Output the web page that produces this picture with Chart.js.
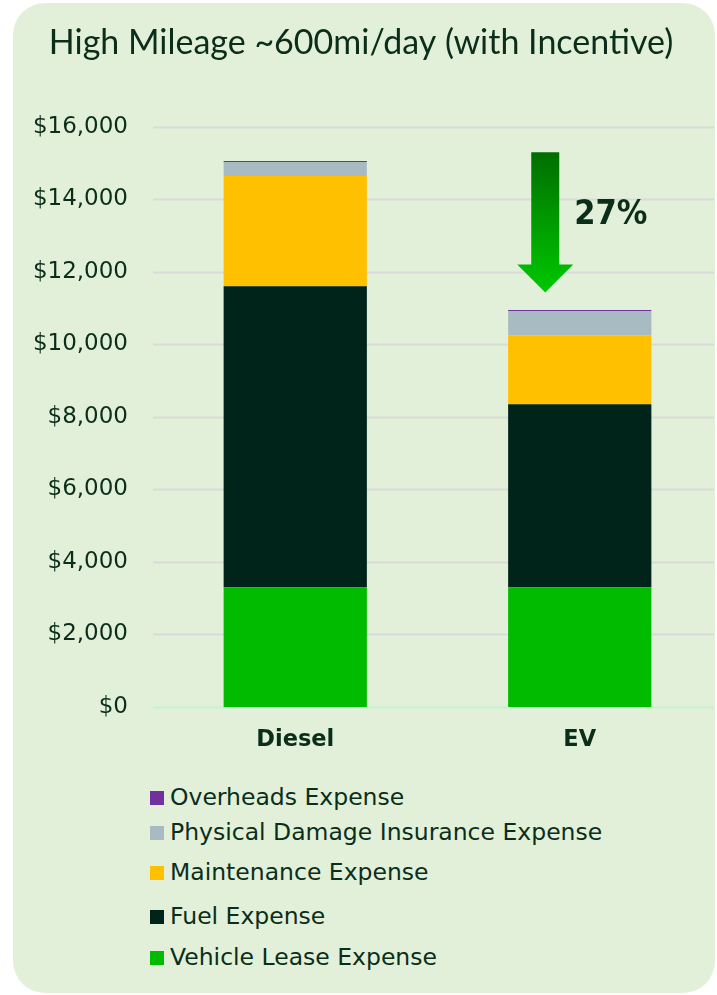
<!DOCTYPE html>
<html>
<head>
<meta charset="utf-8">
<script src="https://cdn.jsdelivr.net/npm/chart.js@4.4.1/dist/chart.umd.min.js"></script>
<style>
  html, body { margin:0; padding:0; background:#fff; }
  body { width:717px; height:995px; position:relative; overflow:hidden; }
  #card {
    position:absolute; left:13px; top:3px; right:2px; bottom:2px;
    background:#e2f0d9; border-radius:32px;
  }
  #wrap { position:absolute; left:0; top:0; width:722px; height:780px; }
  #legend {
    position:absolute; left:150px; top:0; margin:0; padding:0; list-style:none;
    font-family:"DejaVu Sans", Verdana, sans-serif; font-size:23.5px; color:#0b2e1a;
  }
  #legend li { position:absolute; left:0; white-space:nowrap; }
  #legend .box { position:absolute; left:0; width:14px; height:14px; }
  #legend .txt { position:absolute; left:20px; line-height:28px; }
</style>
</head>
<body>
<div id="card"></div>
<div id="wrap"><canvas id="costChart" width="722" height="780"></canvas></div>
<ul id="legend"></ul>
<script>
// ---- data ----
const CATEGORIES = ["Diesel", "EV"];
const VEHICLE_LEASE = [3300, 3300];
const FUEL          = [8300, 5050];
const MAINTENANCE   = [3040, 1900];
const INSURANCE     = [390, 670];
const OVERHEADS     = [30, 30];
const Y_TICKS = [0, 2000, 4000, 6000, 8000, 10000, 12000, 14000, 16000];

const TEXT = "#0b2e1a";

// stacked from bottom up; legend lists them top-down
const SERIES = [
  { label:"Vehicle Lease Expense",            data:VEHICLE_LEASE, color:"#00bb00" },
  { label:"Fuel Expense",                     data:FUEL,          color:"#00241a" },
  { label:"Maintenance Expense",              data:MAINTENANCE,   color:"#ffc000" },
  { label:"Physical Damage Insurance Expense",data:INSURANCE,     color:"#a9bbc2" },
  { label:"Overheads Expense",                data:OVERHEADS,     color:"#7030a0" }
];

const total = i => SERIES.reduce((s,d)=>s+d.data[i],0);
const saving = Math.round((1 - total(1)/total(0))*100);

// grid lines stop at the card edge
const gridPlugin = {
  id:"gridExt",
  beforeDatasetsDraw(chart) {
    const { ctx, chartArea, scales:{ y } } = chart;
    ctx.save();
    Y_TICKS.forEach(v => {
      const py = Math.round(y.getPixelForValue(v)) + 0.5;
      ctx.beginPath();
      ctx.strokeStyle = v === 0 ? "#c4f2d2" : "#d9d9d9";
      ctx.lineWidth = 2;
      ctx.moveTo(chartArea.left, py);
      ctx.lineTo(714, py);
      ctx.stroke();
    });
    ctx.restore();
  }
};

// down arrow + percentage beside the EV bar
const arrowPlugin = {
  id:"saveArrow",
  afterDatasetsDraw(chart) {
    const { ctx, scales:{ x, y } } = chart;
    const cx = x.getPixelForValue(1) - 34.5;
    const top = y.getPixelForValue(15300);
    const neck = y.getPixelForValue(12200);
    const tip = y.getPixelForValue(11430);
    const g = ctx.createLinearGradient(0, top, 0, tip);
    g.addColorStop(0, "#006e00");
    g.addColorStop(1, "#00c800");
    ctx.save();
    ctx.fillStyle = g;
    ctx.beginPath();
    ctx.moveTo(cx-14, top); ctx.lineTo(cx+14, top);
    ctx.lineTo(cx+14, neck); ctx.lineTo(cx+28, neck);
    ctx.lineTo(cx, tip); ctx.lineTo(cx-28, neck);
    ctx.lineTo(cx-14, neck); ctx.closePath();
    ctx.fill();
    ctx.fillStyle = TEXT;
    ctx.font = "bold 34px 'DejaVu Sans Condensed', 'DejaVu Sans', sans-serif";
    ctx.textBaseline = "middle";
    ctx.fillText(saving + "%", cx + 29, y.getPixelForValue(13550));
    ctx.restore();
  }
};

const chart = new Chart(document.getElementById("costChart"), {
  type:"bar",
  data:{
    labels:CATEGORIES,
    datasets:SERIES.map(s => ({
      label:s.label, data:s.data, backgroundColor:s.color,
      categoryPercentage:1, barPercentage:0.5035, borderWidth:0
    }))
  },
  options:{
    responsive:false, animation:false,
    layout:{ padding:{ left:0, right:0, top:0, bottom:13 } },
    plugins:{
      legend:{ display:false },
      tooltip:{ enabled:false },
      title:{
        display:true, text:"High Mileage ~600mi/day (with Incentive)",
        color:TEXT, font:{ family:"Lato, 'Open Sans', sans-serif", size:34, weight:"normal" },
        padding:{ top:23, bottom:63 }
      }
    },
    scales:{
      x:{
        stacked:true,
        afterFit: s => { s.height = 60; },
        grid:{ display:false, drawTicks:false },
        border:{ display:false },
        ticks:{ color:TEXT, padding:19.5, font:{ family:"'DejaVu Sans', Verdana, sans-serif", size:22.5, weight:"bold" } }
      },
      y:{
        stacked:true, min:0, max:16000,
        afterBuildTicks: s => { s.ticks = Y_TICKS.map(v => ({ value:v })); },
        afterFit: s => { s.width = 153; },
        grid:{ display:false, drawTicks:false },
        border:{ display:false },
        ticks:{
          color:TEXT, padding:25,
          font:{ family:"'DejaVu Sans', Verdana, sans-serif", size:23 },
          callback: v => "$" + v.toLocaleString("en-US")
        }
      }
    }
  },
  plugins:[gridPlugin, arrowPlugin]
});

// vertical legend, top series first
const LEGEND_Y = [798, 833, 873, 917, 958];
const legend = document.getElementById("legend");
SERIES.slice().reverse().forEach((s, i) => {
  const li = document.createElement("li");
  li.style.top = LEGEND_Y[i] + "px";
  li.innerHTML = `<span class="box" style="background:${s.color};top:-7px"></span>` +
                 `<span class="txt" style="top:-15px">${s.label}</span>`;
  legend.appendChild(li);
});
</script>
</body>
</html>
